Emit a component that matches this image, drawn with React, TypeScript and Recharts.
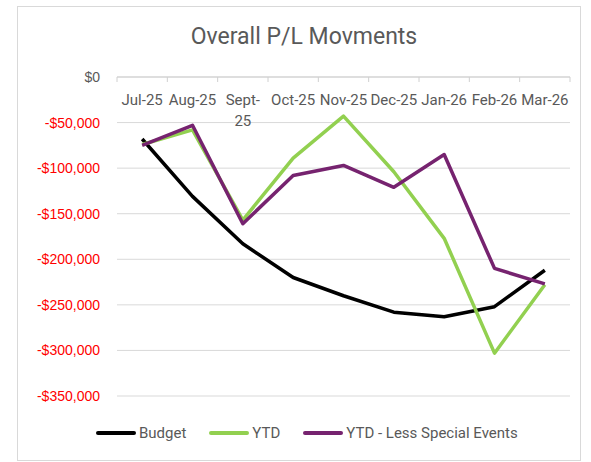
import React from 'react';
import { LineChart, Line, XAxis, YAxis, CartesianGrid, Legend } from 'recharts';

const months = ['Jul-25', 'Aug-25', 'Sept-25', 'Oct-25', 'Nov-25', 'Dec-25', 'Jan-26', 'Feb-26', 'Mar-26'];
const budget = [-68000, -131000, -183000, -220000, -240000, -258000, -263000, -252000, -212000];
const ytd = [-74000, -58000, -157000, -89000, -43000, -104000, -177000, -303000, -228000];
const ytdLessSpecial = [-75000, -53000, -161000, -108000, -97000, -121000, -85000, -210000, -227000];
const yTicks = [0, -50000, -100000, -150000, -200000, -250000, -300000, -350000];

const seriesInfo = [
  { key: 'budget', name: 'Budget', color: '#000000' },
  { key: 'ytd', name: 'YTD', color: '#92D050' },
  { key: 'ytdLess', name: 'YTD - Less Special Events', color: '#76236F' },
];

const data = months.map((m, i) => ({
  month: m,
  budget: budget[i],
  ytd: ytd[i],
  ytdLess: ytdLessSpecial[i],
}));

const grey = '#595959';
const labelFont = 'Roboto, "Noto Sans", sans-serif';

const formatMoney = (v: number) => {
  const s = '$' + Math.abs(v).toLocaleString('en-US');
  return v < 0 ? '-' + s : s;
};

const MoneyTick = (props: any) => {
  const { x, y, payload } = props;
  return (
    <text
      x={x}
      y={y}
      dy={5}
      textAnchor="end"
      fontSize={14}
      fontFamily='"Liberation Sans", Arial, sans-serif'
      fill={payload.value < 0 ? '#FF0000' : grey}
    >
      {formatMoney(payload.value)}
    </text>
  );
};

const MonthTick = (props: any) => {
  const { x, y, payload, index, visibleTicksCount } = props;
  const half = payload.offset || 25;
  const label: string = payload.value;
  // long labels wrap after the hyphen like Excel does
  const cut = label.indexOf('-') + 1;
  const lines = label.length > 6 ? [label.slice(0, cut), label.slice(cut)] : [label];
  return (
    <g>
      <line x1={x - half} x2={x - half} y1={y} y2={y + 5} stroke="#d0d0d0" />
      {index === visibleTicksCount - 1 && (
        <line x1={x + half} x2={x + half} y1={y} y2={y + 5} stroke="#d0d0d0" />
      )}
      <text x={x} y={y + 28} textAnchor="middle" fontSize={15} fontFamily={labelFont} fill={grey}>
        {lines.map((l, i) => (
          <tspan key={i} x={x} dy={i === 0 ? 0 : 21}>
            {l}
          </tspan>
        ))}
      </text>
    </g>
  );
};

const renderLegend = () => (
  <div style={{ display: 'flex', alignItems: 'center', height: 20, paddingLeft: 96 }}>
    {seriesInfo.map((s, i) => (
      <div key={s.key} style={{ display: 'flex', alignItems: 'center', marginRight: 23 }}>
        <svg width={40} height={6} style={{ marginRight: 3 }}>
          <line x1={2} x2={38} y1={3} y2={3} stroke={s.color} strokeWidth={4} strokeLinecap="round" />
        </svg>
        <span style={{ fontFamily: labelFont, fontSize: 15, color: grey }}>{s.name}</span>
      </div>
    ))}
  </div>
);

export default function App() {
  return (
    <div style={{ position: 'absolute', left: 0, top: 0, width: 591, height: 462, background: '#fff' }}>
      <div
        style={{
          position: 'absolute',
          left: 17,
          top: 6,
          width: 564,
          height: 455,
          boxSizing: 'border-box',
          border: '1px solid #d9d9d9',
        }}
      />
      <div
        style={{
          position: 'absolute',
          left: 0,
          top: 22,
          width: 608,
          textAlign: 'center',
          fontFamily: labelFont,
          fontSize: 23,
          color: grey,
          lineHeight: '30px',
        }}
      >
        Overall P/L Movments
      </div>
      <div style={{ position: 'absolute', left: 0, top: 0 }}>
        <LineChart width={591} height={462} data={data} margin={{ top: 77, right: 21, bottom: 46, left: 0 }}>
          <CartesianGrid vertical={false} stroke="#d9d9d9" strokeWidth={1} />
          <XAxis
            dataKey="month"
            orientation="top"
            mirror
            scale="band"
            interval={0}
            tickLine={false}
            tickSize={0}
            tickMargin={0}
            axisLine={{ stroke: '#d0d0d0' }}
            tick={<MonthTick />}
          />
          <YAxis
            type="number"
            domain={[-350000, 0]}
            ticks={yTicks}
            interval={0}
            width={117}
            axisLine={false}
            tickLine={false}
            tickSize={0}
            tickMargin={17}
            tick={<MoneyTick />}
          />
          <Legend
            verticalAlign="bottom"
            content={renderLegend}
            wrapperStyle={{ left: 0, width: 591, bottom: 19, height: 20 }}
          />
          {seriesInfo.map((s) => (
            <Line
              key={s.key}
              type="linear"
              dataKey={s.key}
              name={s.name}
              stroke={s.color}
              strokeWidth={3.5}
              strokeLinejoin="round"
              dot={false}
              activeDot={false}
              isAnimationActive={false}
            />
          ))}
        </LineChart>
      </div>
    </div>
  );
}
